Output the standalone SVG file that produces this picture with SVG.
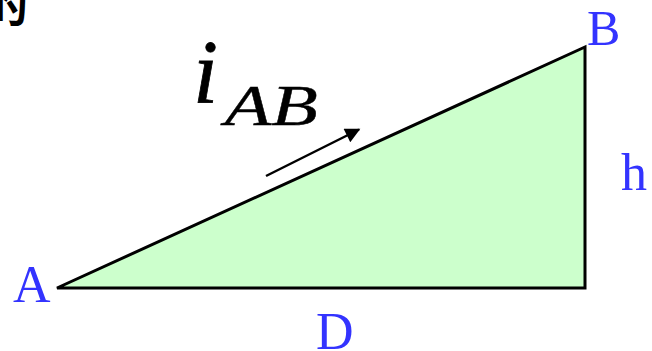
<svg xmlns="http://www.w3.org/2000/svg" width="652" height="351" viewBox="0 0 652 351">
<defs>
<style>
.lbl{fill:#3333ff}
</style>
<marker id="ah" viewBox="0 0 10 10" refX="9" refY="5" markerWidth="6.5" markerHeight="6" orient="auto" markerUnits="strokeWidth">
<path d="M0,0 L10,5 L0,10 z" fill="#000"/>
</marker>
</defs>
<rect width="652" height="351" fill="#fff"/>
<text x="28" y="21" text-anchor="end" font-family="Noto Sans CJK SC" font-size="46" font-weight="bold" fill="#000">的</text>
<g id="triangle">
<polygon points="57,288 585,47 585,288" fill="#ccffcc" stroke="#000" stroke-width="3" stroke-linejoin="miter"/>
</g>
<g id="connectors">
<line x1="266" y1="176" x2="359" y2="129.5" stroke="#000" stroke-width="2.5" marker-end="url(#ah)"/>
</g>
<g id="label-iAB">
<text x="193" y="103" font-family="Liberation Serif" font-style="italic" font-size="90" fill="#000" stroke="#000" stroke-width="0.8">i</text>
<text transform="translate(222,125) scale(1.36,1)" x="2" y="0" font-family="Liberation Serif" font-style="italic" font-size="56" fill="#000" stroke="#000" stroke-width="0.4">AB</text>
</g>
<g id="label-A"><text class="lbl" x="13" y="302" font-family="Liberation Serif" font-size="52">A</text></g>
<g id="label-B"><text class="lbl" x="587" y="45" font-family="Liberation Serif" font-size="50">B</text></g>
<g id="label-h"><text class="lbl" x="621" y="190" font-family="Liberation Serif" font-size="52">h</text></g>
<g id="label-D"><text class="lbl" x="316" y="349" font-family="Liberation Serif" font-size="52">D</text></g>
</svg>
